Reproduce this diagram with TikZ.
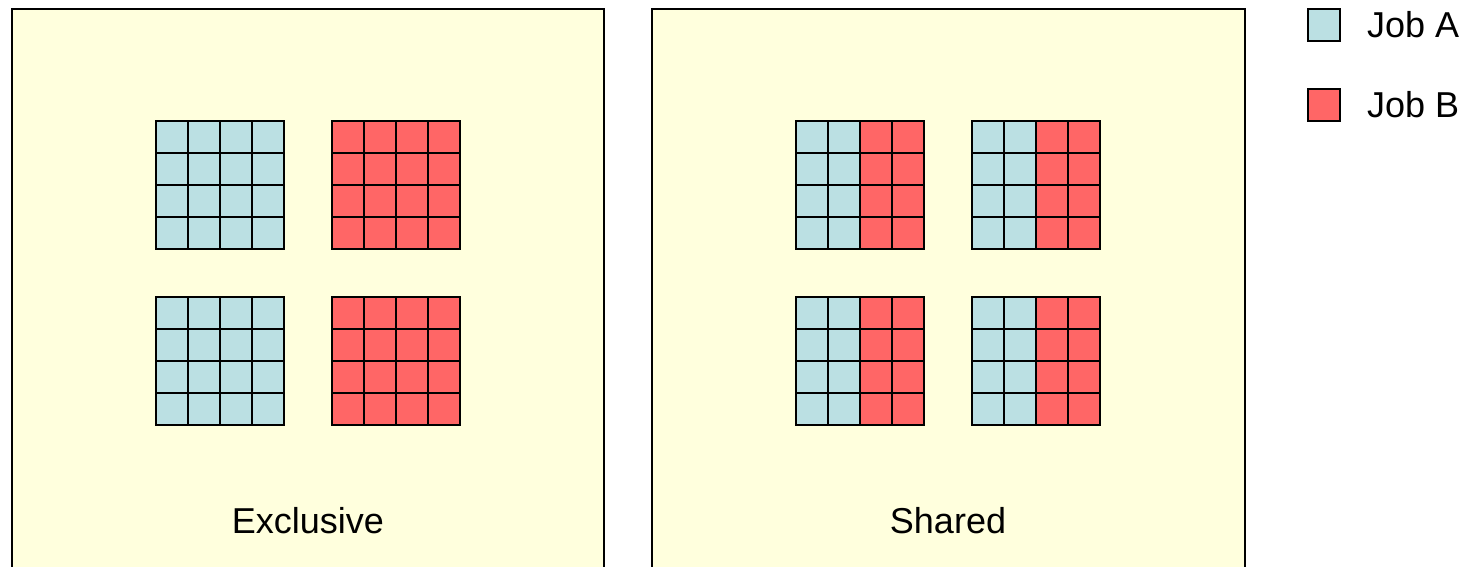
\documentclass[tikz,border=0pt]{standalone}
\usepackage{fontspec}
\setmainfont{Liberation Sans}
\definecolor{jobA}{HTML}{BBE0E3}
\definecolor{jobB}{HTML}{FF6666}
\definecolor{panelbg}{HTML}{FFFFDD}
\newcommand\cellgrid[4]{%
  \fill[#3] (#1,#2) rectangle ++(64,128);
  \fill[#4] (#1+64,#2) rectangle ++(64,128);
  \foreach \i in {0,...,4} {
    \draw[gridline] (#1+\i*32,#2) -- ++(0,128);
    \draw[gridline] (#1,#2+\i*32) -- ++(128,0);
  }
}
\tikzset{
  gridline/.style={line width=2.2pt, line cap=rect},
  panel/.style={draw, fill=panelbg, line width=2.2pt},
  lbl/.style={font=\fontsize{36}{43}\selectfont, inner sep=0pt, anchor=base},
  legendbox/.style={draw, line width=2.2pt},
}
\begin{document}
\begin{tikzpicture}[x=1pt,y=-1pt]
\clip (0,0) rectangle (1471,566);
\fill[white] (0,0) rectangle (1471,566);
% panels
\draw[panel] (12,9) rectangle (604,590);
\draw[panel] (652,9) rectangle (1245,590);
% exclusive grids
\cellgrid{156}{121}{jobA}{jobA}
\cellgrid{332}{121}{jobB}{jobB}
\cellgrid{156}{297}{jobA}{jobA}
\cellgrid{332}{297}{jobB}{jobB}
% shared grids
\cellgrid{796}{121}{jobA}{jobB}
\cellgrid{972}{121}{jobA}{jobB}
\cellgrid{796}{297}{jobA}{jobB}
\cellgrid{972}{297}{jobA}{jobB}
% labels
\node[lbl] (excl) at (308,533.3) {Exclusive};
\node[lbl] (shared) at (948,533.3) {Shared};
% legend
\draw[legendbox, fill=jobA] (1308,9) rectangle (1340,41);
\draw[legendbox, fill=jobB] (1308,89) rectangle (1340,121);
\node[lbl, anchor=base west] (joba) at (1367,37) {Job A};
\node[lbl, anchor=base west] (jobb) at (1367,117.3) {Job B};
\end{tikzpicture}
\end{document}
